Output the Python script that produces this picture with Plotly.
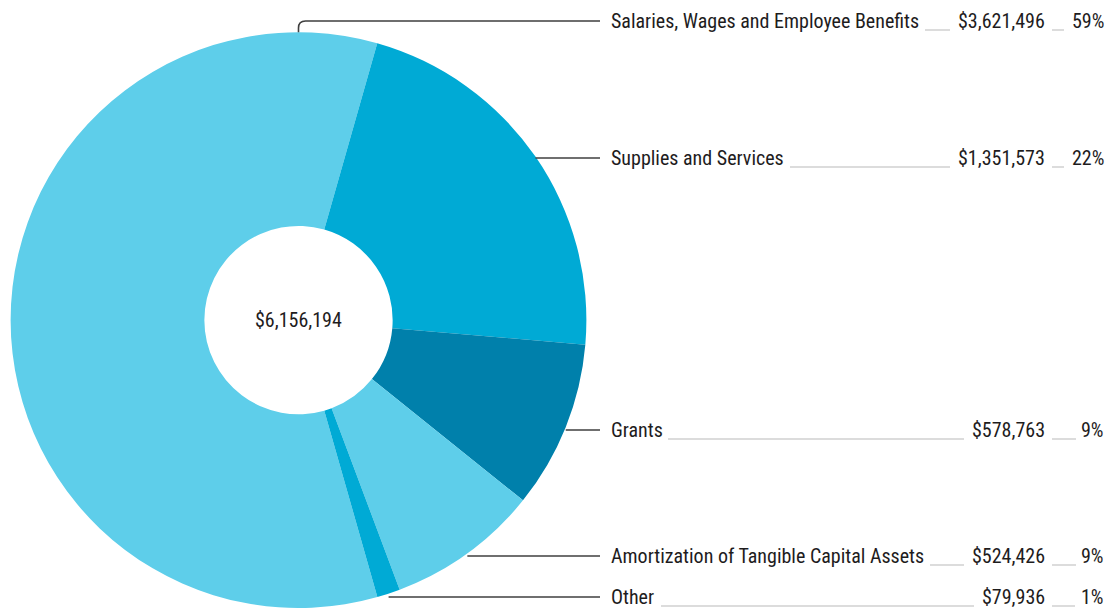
import math
import plotly.graph_objects as go

# Expense categories and amounts
categories = [
    "Salaries, Wages and Employee Benefits",
    "Supplies and Services",
    "Grants",
    "Amortization of Tangible Capital Assets",
    "Other",
]
amounts = [3621496, 1351573, 578763, 524426, 79936]
colors = ["#5ECEEA", "#00AAD5", "#0080AB", "#5ECEEA", "#00AAD5"]

W, H = 1107, 608
FONT = "Liberation Sans Narrow, Roboto Condensed, Arial Narrow, sans-serif"
TEXT = "#1e1c1d"
FSIZE = 20

total = sum(amounts)
shares = [a / total for a in amounts]
pct_labels = [f"{round(s * 100):.0f}%" for s in shares]
value_labels = [f"${a:,.0f}" for a in amounts]

# Pie geometry (pixels)
dom_x = [10 / W, 587 / W]
dom_y = [0.0, 0.947]
cx = (dom_x[0] + dom_x[1]) / 2 * W
cy = H - (dom_y[0] + dom_y[1]) / 2 * H
radius = min((dom_x[1] - dom_x[0]) * W, (dom_y[1] - dom_y[0]) * H) / 2
rotation = 164.1


def px(x, y):
    return x / W, 1 - y / H


fig = go.Figure(
    go.Pie(
        labels=categories,
        values=amounts,
        marker=dict(colors=colors, line=dict(width=0)),
        hole=0.327,
        sort=False,
        direction="clockwise",
        rotation=rotation,
        textinfo="none",
        hoverinfo="label+value+percent",
        domain=dict(x=dom_x, y=dom_y),
        showlegend=False,
    )
)

# Anchor angle of each slice (clockwise from 12 o'clock)
anchors = []
start = rotation
for i, s in enumerate(shares):
    sweep = s * 360
    if i == 0:
        anchors.append(0.0)  # biggest slice: leader leaves from the top
    else:
        anchors.append(start + sweep / 2)
    start += sweep

row_y = [21, 158, 430, 556, 597]
label_x = 609
value_right = 1047
pct_right = 1106
LINE = "#3f3f3f"
GREY = "#d0d0d0"

shapes = []
annotations = []
for i, ang in enumerate(anchors):
    a = math.radians(ang)
    ex = cx + radius * math.sin(a)
    ey = cy - radius * math.cos(a)
    y = row_y[i]
    if i == 0:
        r = 7
        x0, y0 = px(ex, ey)
        x1, y1 = px(ex, y + r)
        xq, yq = px(ex, y)
        x2, y2 = px(ex + r, y)
        x3, y3 = px(label_x - 9, y)
        path = f"M {x0},{y0} L {x1},{y1} Q {xq},{yq} {x2},{y2} L {x3},{y3}"
        shapes.append(dict(type="path", path=path, xref="paper", yref="paper",
                           line=dict(color=LINE, width=1.6)))
    else:
        x0, y0 = px(ex, y)
        x1, y1 = px(label_x - 9, y)
        shapes.append(dict(type="line", x0=x0, y0=y0, x1=x1, y1=y1,
                           xref="paper", yref="paper",
                           line=dict(color=LINE, width=1.6)))

    for txt, xpos, anchor in [(categories[i], label_x, "left"),
                              (value_labels[i], value_right, "right"),
                              (pct_labels[i], pct_right, "right")]:
        ax, ay = px(xpos, y)
        annotations.append(dict(text=txt, x=ax, y=ay, xref="paper", yref="paper",
                                xanchor=anchor, yanchor="middle", showarrow=False,
                                font=dict(family=FONT, size=FSIZE, color=TEXT)))

# Grey rules between label, value and percentage
gap1 = [(925, 950), (790, 950), (668, 964), (930, 964), (661, 974)]
gap2 = [(1052, 1064), (1052, 1064), (1052, 1076), (1052, 1076), (1052, 1075)]
for i, y in enumerate(row_y):
    for g0, g1 in (gap1[i], gap2[i]):
        x0, yy = px(g0, y + 9)
        x1, _ = px(g1, y + 9)
        shapes.append(dict(type="line", x0=x0, y0=yy, x1=x1, y1=yy,
                           xref="paper", yref="paper",
                           line=dict(color=GREY, width=1.5)))

cx_p, cy_p = px(cx, cy)
annotations.append(dict(text=f"${total:,.0f}", x=cx_p, y=cy_p, xref="paper", yref="paper",
                        xanchor="center", yanchor="middle", showarrow=False,
                        font=dict(family=FONT, size=FSIZE, color=TEXT)))

fig.update_layout(
    width=W,
    height=H,
    margin=dict(l=0, r=0, t=0, b=0),
    paper_bgcolor="white",
    plot_bgcolor="white",
    shapes=shapes,
    annotations=annotations,
)

fig.write_html("out.html")
